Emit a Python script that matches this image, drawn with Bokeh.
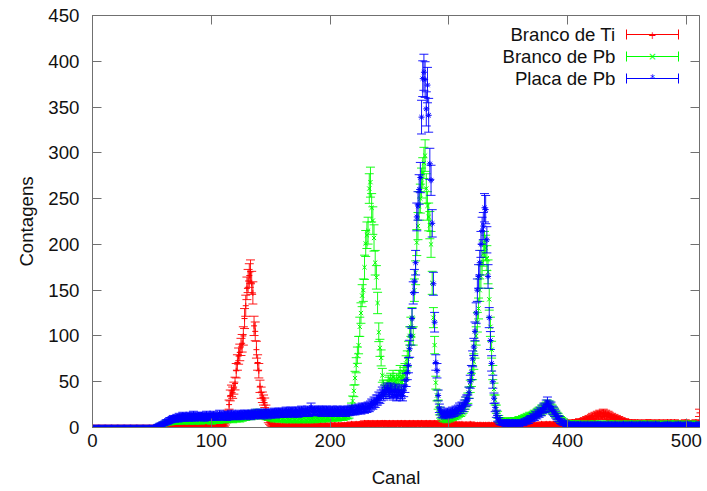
import numpy as np
from bokeh.plotting import figure
from bokeh.models import (ColumnDataSource, LinearAxis, FixedTicker, Label,
                          Arrow, TeeHead, Range1d)
from bokeh.embed import file_html
from bokeh.resources import INLINE

# ---------------- data (counts per channel) ----------
channels = list(range(512))

branco_ti = [
    0,0,0,0,0,0,0,0,0,0,0,0,0,0,0,0,
    0,0,0,0,0,0,0,0,0,0,0,0,0,0,0,0,
    0,0,0,0,0,0,0,0,0,0,0,0,0,0,0,0,
    0,0,0,0,0,0,1,0,1,1,1,1,2,1,2,1,
    2,1,2,2,1,2,3,2,1,2,2,3,2,1,2,3,
    2,2,3,1,2,3,2,2,3,2,1,3,2,2,3,2,
    3,2,2,3,2,3,3,2,4,3,2,3,4,3,4,3,
    5,8,15,25,35,40,38,43,48,62,71,78,82,88,92,100,
    119,133,152,160,166,170,158,147,111,105,85,71,62,45,38,33,
    30,27,20,12,8,6,4,3,2,3,2,1,2,2,3,1,
    2,1,2,3,1,2,2,1,3,2,1,2,2,3,1,2,
    2,3,1,2,2,1,3,2,2,1,2,3,2,1,2,2,
    3,2,1,2,3,2,2,1,2,3,2,2,3,2,1,3,
    2,2,3,2,3,2,3,3,2,3,4,3,2,3,4,3,
    3,4,3,4,3,5,4,3,5,4,4,3,5,4,3,4,
    5,4,4,3,5,4,5,4,3,4,5,4,3,5,4,4,
    3,5,4,4,5,3,4,5,4,3,4,5,4,3,5,4,
    4,3,5,4,4,5,3,4,4,5,3,4,5,4,3,4,
    5,4,3,4,5,4,3,4,4,3,4,3,4,3,3,4,
    3,3,4,3,2,3,3,4,3,2,3,3,2,3,4,3,
    2,3,3,2,3,2,3,3,2,3,2,3,2,3,3,2,
    3,2,3,2,3,3,2,3,2,2,3,2,3,2,3,2,
    3,2,2,3,2,3,2,3,2,3,3,2,3,2,3,3,
    2,3,2,3,3,2,3,2,3,3,4,3,2,3,4,3,
    3,4,3,2,4,3,3,4,3,4,3,4,4,3,4,5,
    4,5,4,5,6,5,4,6,5,6,7,6,5,7,8,7,
    9,8,10,9,11,12,10,13,12,14,13,15,14,12,16,13,
    15,12,14,13,11,12,10,11,9,10,8,9,7,8,7,6,
    7,6,5,6,5,4,6,5,4,5,4,6,5,4,5,4,
    5,4,6,5,4,5,6,5,4,5,4,5,4,6,5,4,
    5,4,5,4,6,5,4,5,4,5,6,4,5,4,5,4,
    5,4,5,6,4,5,4,5,4,5,4,5,6,4,5,16,
]

branco_pb = [
    0,0,0,0,0,0,0,0,0,0,0,0,0,0,0,0,
    0,0,0,0,0,0,0,0,0,0,0,0,0,0,0,0,
    0,0,0,0,0,0,0,0,0,0,0,0,0,0,0,0,
    0,0,0,0,0,0,1,1,2,2,3,3,4,4,5,5,
    6,5,6,7,6,7,6,8,7,6,8,7,9,6,8,7,
    8,7,6,9,7,8,6,8,9,7,8,6,9,7,8,7,
    8,9,7,8,6,9,8,7,9,8,7,9,8,10,8,9,
    10,8,9,11,9,10,8,11,10,9,11,10,9,12,10,11,
    12,11,13,12,14,13,12,15,14,13,15,16,14,13,15,14,
    13,15,12,14,11,13,12,10,11,9,12,10,11,9,10,11,
    9,10,8,11,9,10,8,9,11,10,8,9,10,8,9,10,
    8,9,10,9,8,10,9,8,10,9,11,8,9,10,9,11,
    10,9,11,10,12,9,11,10,12,11,10,12,11,13,10,12,
    11,13,12,11,13,12,14,13,14,18,22,29,40,54,68,79,
    90,110,125,144,150,175,201,210,215,261,268,240,226,207,180,164,
    136,104,87,76,57,45,40,42,45,50,48,52,46,55,50,45,
    52,48,55,60,50,55,58,62,70,75,85,100,110,120,100,150,
    169,202,220,242,250,267,278,289,297,261,242,230,221,200,158,120,
    90,49,35,25,18,14,12,10,9,10,8,11,9,10,12,11,
    13,12,14,13,15,17,16,18,20,22,25,28,32,38,45,52,
    60,72,85,100,115,130,150,165,180,190,200,196,185,170,140,110,
    85,60,42,30,20,14,10,8,7,6,5,7,6,5,8,6,
    7,5,6,8,7,6,8,9,7,8,10,9,11,10,12,11,
    13,12,13,14,15,14,16,17,18,17,20,19,21,22,23,25,
    22,24,21,20,18,17,15,13,12,10,9,8,7,6,5,5,
    4,5,3,4,5,4,3,5,4,3,4,5,3,4,4,3,
    4,3,5,4,3,4,4,5,3,4,3,4,5,3,4,4,
    3,4,4,5,3,4,3,5,4,3,4,4,3,5,4,3,
    4,3,4,5,3,4,4,3,5,4,3,4,3,4,5,3,
    4,4,3,5,4,3,4,3,4,5,3,4,4,3,4,3,
    5,4,3,4,4,3,5,4,3,4,4,5,3,4,3,4,
    4,3,5,4,3,4,4,3,4,5,3,4,3,4,4,3,
]

placa_pb = [
    0,0,0,0,0,0,0,0,0,0,0,0,0,0,0,0,
    0,0,0,0,0,0,0,0,0,0,0,0,0,0,0,0,
    0,0,0,0,0,0,0,0,0,0,0,0,0,0,0,0,
    0,0,0,0,0,1,1,2,2,3,3,4,4,5,6,6,
    7,8,8,9,10,9,10,11,9,12,10,11,13,10,12,11,
    12,10,13,11,12,14,10,12,11,13,12,11,13,12,10,12,
    14,11,12,13,11,12,14,12,13,11,12,15,12,13,12,14,
    13,11,14,12,13,15,12,14,13,12,14,13,15,12,14,13,
    15,14,13,15,14,12,15,14,13,16,14,15,14,16,13,15,
    14,16,15,13,16,15,14,16,15,17,14,16,15,17,16,15,
    17,15,16,18,15,17,16,18,17,15,16,18,17,15,18,16,
    19,17,16,18,17,19,16,18,22,17,18,19,17,18,19,17,
    18,16,19,18,17,19,18,16,18,17,19,16,18,17,19,18,
    16,18,17,19,18,16,18,19,17,18,20,18,19,18,20,19,
    21,20,19,22,21,20,22,21,23,22,24,26,25,28,27,30,
    30,33,32,35,38,36,40,38,42,40,38,42,40,36,39,41,
    35,38,40,36,38,35,40,45,52,60,68,86,100,119,147,160,
    180,230,242,260,273,339,381,388,380,348,374,341,288,270,223,157,
    115,71,62,35,21,18,15,14,16,13,15,17,14,16,15,18,
    16,17,19,18,20,22,20,23,22,25,28,30,30,38,50,60,
    75,88,105,125,150,165,180,200,215,220,240,238,205,165,120,95,
    70,50,32,22,15,10,8,6,5,5,4,6,3,5,4,6,
    5,3,4,5,6,4,5,3,5,6,4,5,7,6,8,7,
    9,10,10,12,11,14,13,16,15,18,17,20,22,21,25,28,
    24,22,23,19,18,16,14,12,10,9,7,6,5,4,5,3,
    3,2,4,3,2,3,4,2,3,3,2,4,3,2,3,2,
    3,4,2,3,2,3,3,4,2,3,2,3,4,2,3,2,
    3,2,4,3,2,3,2,3,4,2,3,2,3,2,3,4,
    2,3,2,3,3,2,4,2,3,2,3,2,3,4,2,3,
    2,3,2,4,3,2,3,2,3,2,4,3,2,3,2,3,
    3,2,3,2,4,2,3,2,3,3,2,3,2,4,2,3,
    2,3,2,3,2,4,3,2,3,2,3,2,3,2,3,4,
]

series_names = ["Branco de Ti", "Branco de Pb", "Placa de Pb"]
series_values = [branco_ti, branco_pb, placa_pb]
series_colors = ["#ff0000", "#00ff00", "#0000ff"]
series_markers = ["cross", "x", "asterisk"]
legend_marks = ["+", "\u00d7", "*"]

x_ticks = [0, 100, 200, 300, 400, 500]
y_ticks = [0, 50, 100, 150, 200, 250, 300, 350, 400, 450]

FONT = "Liberation Sans"
FSIZE = "14pt"
BORDER = "#707070"

# ---------------- figure ----------------------------------------------------
p = figure(width=707, height=491, output_backend="svg", toolbar_location=None,
           x_range=Range1d(0, 511), y_range=Range1d(0, 450),
           min_border_left=92, min_border_right=8, min_border_top=15,
           min_border_bottom=64)
p.xgrid.visible = False
p.ygrid.visible = False
p.outline_line_color = BORDER
p.outline_line_width = 1
p.background_fill_color = "white"
p.border_fill_color = "white"

def style_axis(ax, ticks, labels=True):
    ax.ticker = FixedTicker(ticks=ticks)
    ax.major_tick_in = 9
    ax.major_tick_out = 0
    ax.minor_tick_in = 0
    ax.minor_tick_out = 0
    ax.major_tick_line_color = BORDER
    ax.axis_line_color = BORDER
    if labels:
        ax.major_label_text_font = FONT
        ax.major_label_text_font_size = FSIZE
        ax.major_label_text_color = "#111111"
        ax.axis_label_text_font = FONT
        ax.axis_label_text_font_size = FSIZE
        ax.axis_label_text_font_style = "normal"
        ax.axis_label_text_color = "#111111"
    else:
        ax.major_label_overrides = {t: "" for t in ticks}
        ax.major_label_text_font_size = "1px"
        ax.major_label_standoff = 0
        ax.axis_line_color = None

style_axis(p.xaxis[0], x_ticks)
style_axis(p.yaxis[0], y_ticks)
p.xaxis[0].axis_label = "Canal"
p.yaxis[0].axis_label = "Contagens"
p.xaxis[0].major_label_standoff = 6
p.yaxis[0].major_label_standoff = 13
p.xaxis[0].axis_label_standoff = 17
p.yaxis[0].axis_label_standoff = 8

top_ax = LinearAxis()
style_axis(top_ax, x_ticks, labels=False)
p.add_layout(top_ax, "above")
right_ax = LinearAxis()
style_axis(right_ax, y_ticks, labels=False)
p.add_layout(right_ax, "right")

# ---------------- series with Poisson error bars ----------------------------
for name, vals, col, mk in zip(series_names, series_values, series_colors, series_markers):
    y = np.array(vals, dtype=float)
    err = np.sqrt(y)
    src = ColumnDataSource(dict(x=channels, y=y, lo=y - err, hi=y + err))
    p.segment(x0="x", y0="lo", x1="x", y1="hi", source=src,
              line_color=col, line_width=1, line_alpha=0.9)
    p.scatter(x="x", y="hi", source=src, marker="dash", size=9,
              line_color=col, line_width=1, line_alpha=0.9)
    p.scatter(x="x", y="lo", source=src, marker="dash", size=9,
              line_color=col, line_width=1, line_alpha=0.9)
    p.scatter(x="x", y="y", source=src, marker=mk, size=6,
              line_color=col, line_width=1)

# ---------------- legend (gnuplot style: text left, sample right) -----------
# screen units relative to the plot frame (origin bottom-left)
row_y = [393, 371, 349]
for name, col, lm, yy in zip(series_names, series_colors, legend_marks, row_y):
    p.add_layout(Label(x=523, y=yy, x_units="screen", y_units="screen",
                       text=name, text_align="right", text_baseline="middle",
                       text_font=FONT, text_font_size=FSIZE,
                       text_color="#111111"))
    p.add_layout(Arrow(start=TeeHead(size=10, line_color=col, line_width=1),
                       end=TeeHead(size=10, line_color=col, line_width=1),
                       x_start=534, y_start=yy, x_end=586, y_end=yy,
                       start_units="screen", end_units="screen",
                       line_color=col, line_width=1))
    p.add_layout(Label(x=560, y=yy, x_units="screen", y_units="screen",
                       text=lm, text_align="center", text_baseline="middle",
                       text_font="DejaVu Sans", text_font_size="10px",
                       text_color=col))

open("out.html", "w").write(file_html(p, INLINE))
